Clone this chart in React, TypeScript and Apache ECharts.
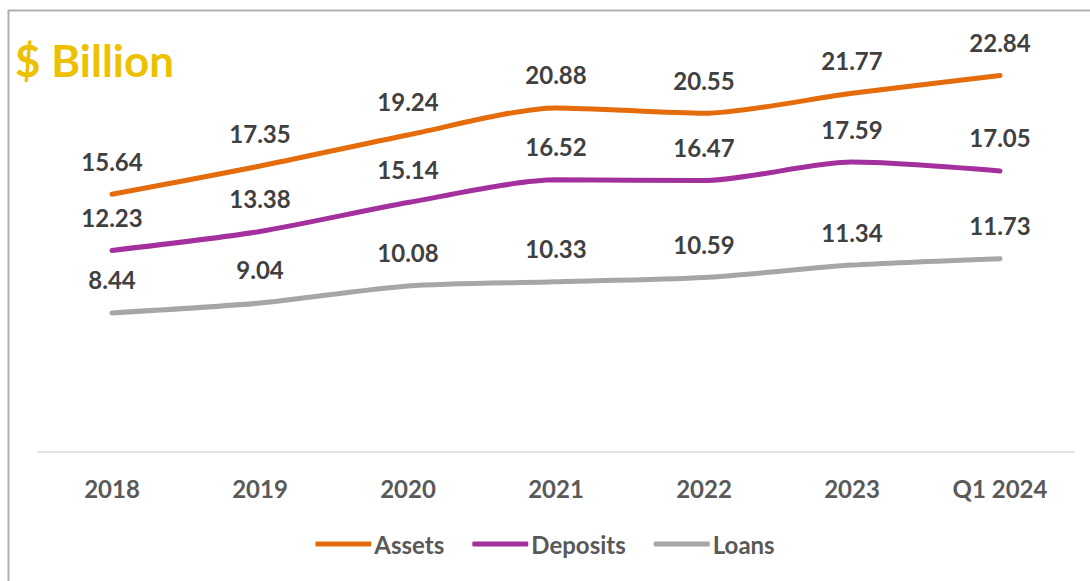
import React, { useEffect, useRef } from "react";
import * as echarts from "echarts";

const categories = ["2018", "2019", "2020", "2021", "2022", "2023", "Q1 2024"];
const assets = [15.64, 17.35, 19.24, 20.88, 20.55, 21.77, 22.84];
const deposits = [12.23, 13.38, 15.14, 16.52, 16.47, 17.59, 17.05];
const loans = [8.44, 9.04, 10.08, 10.33, 10.59, 11.34, 11.73];

const FONT = "Lato, 'Open Sans', sans-serif";

function mkSeries(name: string, data: number[], color: string) {
  return {
    name,
    type: "line",
    data,
    smooth: 0.25,
    symbol: "circle",
    symbolSize: 0.1,
    showSymbol: true,
    lineStyle: { color, width: 5, cap: "round" },
    itemStyle: { color },
    label: {
      show: true,
      position: "top",
      distance: 21,
      color: "#404040",
      fontFamily: FONT,
      fontWeight: "bold",
      fontSize: 24,
      formatter: (p: any) => Number(p.value).toFixed(2),
    },
  };
}

export default function App() {
  const ref = useRef<HTMLDivElement>(null);
  useEffect(() => {
    if (!ref.current) return;
    const chart = echarts.init(ref.current, undefined, { renderer: "svg" });
    chart.setOption({
      animation: false,
      backgroundColor: "#ffffff",
      grid: { left: 38, right: 16, top: 40, bottom: 129, containLabel: false },
      xAxis: {
        type: "category",
        data: categories,
        boundaryGap: true,
        axisLine: { show: true, lineStyle: { color: "#D9D9D9", width: 1.5 } },
        axisTick: { show: false },
        axisLabel: {
          color: "#595959",
          fontFamily: FONT,
          fontWeight: "bold",
          fontSize: 24,
          margin: 24,
        },
      },
      yAxis: {
        type: "value",
        min: 0,
        max: 25,
        show: false,
        splitLine: { show: false },
      },
      legend: {
        bottom: 20,
        left: "center",
        itemWidth: 56,
        itemHeight: 5,
        itemGap: 28,
        icon: "roundRect",
        textStyle: {
          color: "#595959",
          fontFamily: FONT,
          fontWeight: "bold",
          fontSize: 24,
          padding: [0, 0, 0, -2],
        },
        data: ["Assets", "Deposits", "Loans"],
      },
      graphic: [
        {
          type: "line",
          shape: { x1: 8.5, y1: 10, x2: 8.5, y2: 581 },
          style: { stroke: "#B0B0B0", lineWidth: 2 },
        },
        {
          type: "line",
          shape: { x1: 8, y1: 10.5, x2: 1090, y2: 10.5 },
          style: { stroke: "#B0B0B0", lineWidth: 2 },
        },
        {
          type: "text",
          left: 15,
          top: 38,
          style: {
            text: "$ Billion",
            fill: "#EDC100",
            fontFamily: FONT,
            fontWeight: "bold",
            fontSize: 44,
          },
        },
      ],
      series: [
        mkSeries("Assets", assets, "#E46C0A"),
        mkSeries("Deposits", deposits, "#A3309C"),
        mkSeries("Loans", loans, "#A6A6A6"),
      ],
    });
    return () => chart.dispose();
  }, []);
  return (
    <div
      ref={ref}
      style={{ position: "fixed", left: 0, top: 0, width: 1090, height: 581 }}
    />
  );
}
